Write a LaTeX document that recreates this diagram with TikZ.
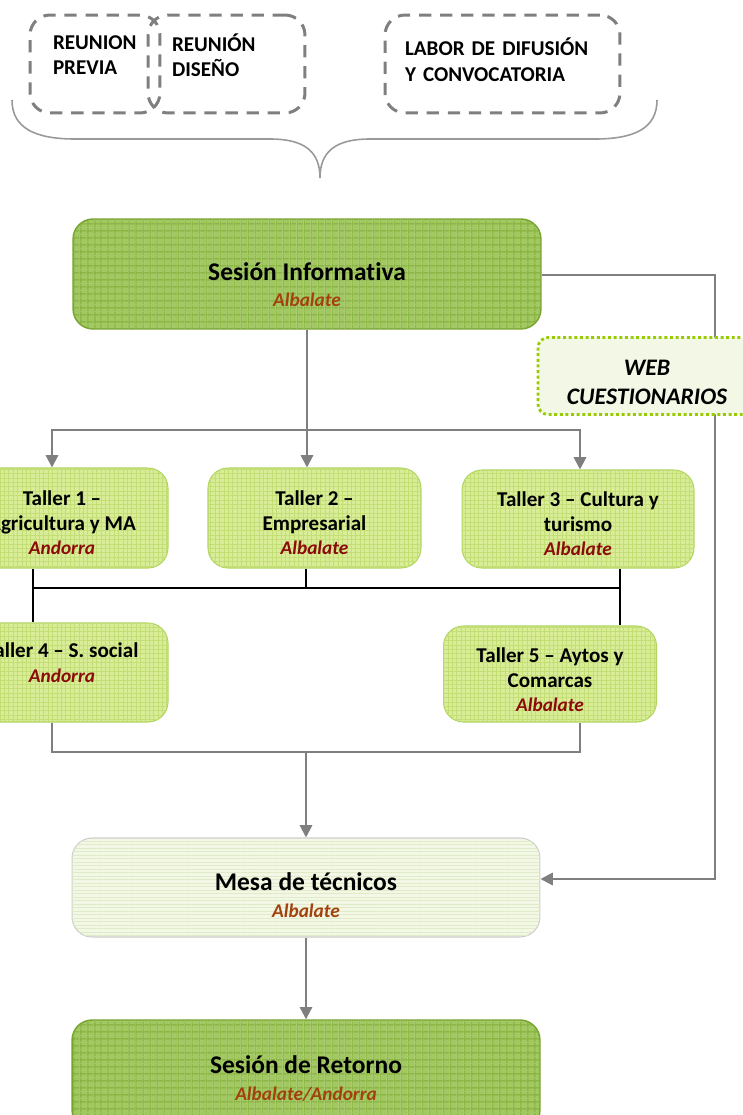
\documentclass[tikz,border=0pt]{standalone}
\usepackage{fontspec}
\setmainfont{Carlito}[Ligatures=NoCommon]
\usetikzlibrary{arrows.meta,patterns.meta}
\definecolor{gris}{HTML}{7F7F7F}
\definecolor{verdeoscuro}{HTML}{A2C862}
\definecolor{verderejilla}{HTML}{80AD38}
\definecolor{verdeborde}{HTML}{76A22E}
\definecolor{verdeclaro}{HTML}{D9EC98}
\definecolor{rejillaclara}{HTML}{C3DE74}
\definecolor{bordeclaro}{HTML}{B0D45E}
\definecolor{verdepalido}{HTML}{F3F8E6}
\definecolor{rejillapalida}{HTML}{DFEAC6}
\definecolor{verdeweb}{HTML}{99CC00}
\definecolor{marron}{HTML}{A3410E}
\definecolor{granate}{HTML}{8B0A0A}
\newcommand{\lugar}[2]{{\itshape\fontsize{11}{13}\selectfont\color{#1}#2}}
\begin{document}
\begin{tikzpicture}[x=0.02cm,y=-0.02cm,
  reunion/.style={draw=gris,line width=1.7pt,dash pattern=on 7pt off 5pt,rounded corners=0.4cm,
    align=left,minimum height=1.96cm,font=\bfseries\fontsize{12}{14}\selectfont,
    execute at end node={\rule[-#1]{0pt}{0pt}}},
  sesion/.style={draw=verdeborde,fill=verdeoscuro,line width=0.8pt,rounded corners=0.4cm,
    minimum width=9.36cm,align=center,font=\bfseries\fontsize{14.5}{15}\selectfont,
    postaction={pattern={Lines[angle=0,distance=4pt,line width=0.7pt]},pattern color=verderejilla},
    postaction={pattern={Lines[angle=90,distance=4pt,line width=0.7pt]},pattern color=verderejilla}},
  taller/.style={draw=bordeclaro,fill=verdeclaro,line width=0.6pt,rounded corners=0.4cm,
    align=center,font=\bfseries\fontsize{12}{14}\selectfont,
    postaction={pattern={Lines[angle=0,distance=2.5pt,line width=0.5pt]},pattern color=rejillaclara},
    postaction={pattern={Lines[angle=90,distance=2.5pt,line width=0.5pt]},pattern color=rejillaclara}},
  mesa/.style={draw=black!20,fill=verdepalido,line width=0.6pt,rounded corners=0.4cm,
    minimum width=9.36cm,minimum height=1.98cm,align=center,font=\bfseries\fontsize{14.5}{15}\selectfont,
    postaction={pattern={Lines[angle=0,distance=2pt,line width=0.4pt]},pattern color=rejillapalida}},
  web/.style={draw=verdeweb,fill=verdepalido,line width=1.6pt,dash pattern=on 1.7pt off 1.5pt,
    rounded corners=0.2cm,minimum width=4.36cm,minimum height=1.54cm,align=center,
    font=\bfseries\itshape\fontsize{13.5}{16}\selectfont},
  flecha/.style={draw=gris,line width=1.2pt,->,>={Triangle[length=7pt,width=7pt]}},
  linea/.style={draw=black,line width=0.8pt},
  llave/.style={draw=gris!80,line width=0.9pt}]
\useasboundingbox (0,0) rectangle (743,1115);
% fase previa
\node[reunion=10pt,text width=1.68cm,inner xsep=0.46cm] (prev) at (95,64) {REUNION\\PREVIA};
\node[reunion=10pt,text width=2.18cm,inner xsep=0.48cm] (dis) at (226.5,64) {REUNIÓN\\DISEÑO};
\node[reunion=5pt,text width=3.9cm,inner xsep=0.4cm] (lab) at (502.5,64) {LABOR DE DIFUSIÓN\\[1pt]Y CONVOCATORIA};
\draw[llave] (12,100) .. controls (12,128) and (35,139) .. (75,139) -- (270,139)
  .. controls (305,139) and (320,152) .. (320,178)
  .. controls (320,152) and (335,139) .. (370,139) -- (595,139)
  .. controls (635,139) and (657,128) .. (657,100);
% sesiones y talleres
\node[sesion,minimum height=2.2cm] (si) at (307,274) {\rule{0pt}{22pt}Sesión Informativa\\\lugar{marron}{Albalate}};
\node[taller,minimum width=4.24cm,minimum height=2cm] (t1) at (62,518) {\rule{0pt}{14pt}Taller 1 –\\Agricultura y MA\\\lugar{granate}{Andorra}};
\node[taller,minimum width=4.26cm,minimum height=2cm] (t2) at (314.5,518) {\rule{0pt}{14pt}Taller 2 –\\Empresarial\\\lugar{granate}{Albalate}};
\node[taller,minimum width=4.64cm,minimum height=1.96cm] (t3) at (578,519) {\rule{0pt}{14pt}Taller 3 – Cultura y\\turismo\\\lugar{granate}{Albalate}};
\node[taller,minimum width=4.24cm,minimum height=1.98cm] (t4) at (62,672.5) {\rule{0pt}{11pt}Taller 4 – S. social\\\lugar{granate}{Andorra}\\~};
\node[taller,minimum width=4.26cm,minimum height=1.92cm] (t5) at (550,674) {\rule{0pt}{15pt}Taller 5 – Aytos y\\Comarcas\\\lugar{granate}{Albalate}};
\node[mesa] (mesa) at (306,887.5) {\rule{0pt}{19pt}Mesa de técnicos\\\lugar{marron}{Albalate}};
\node[sesion,minimum height=2.2cm] (ret) at (306,1075) {\rule{0pt}{14pt}Sesión de Retorno\\\lugar{marron}{Albalate/Andorra}};
% conexiones
\coordinate (b1) at (52,430);
\coordinate (b3) at (580,430);
\coordinate (c1) at (33,588);
\coordinate (c2) at (306,588);
\coordinate (c3) at (620,588);
\coordinate (d1) at (52,752);
\coordinate (d2) at (306,752);
\coordinate (d3) at (580,752);
\coordinate (fb1) at (715,275);
\coordinate (fb2) at (715,879);
\draw[flecha] (si.south) -- (si.south |- t2.north);
\draw[flecha,<->] (b1 |- t1.north) -- (b1) -- (b3) -- (b3 |- t3.north);
\draw[linea] (c1 |- t1.south) -- (c1 |- t4.north);
\draw[linea] (c3 |- t3.south) -- (c3 |- t5.north);
\draw[linea] (c2 |- t2.south) -- (c2);
\draw[linea] (c1) -- (c3);
\draw[flecha,-] (d1 |- t4.south) -- (d1) -- (d3) -- (d3 |- t5.south);
\draw[flecha] (d2) -- (mesa.north);
\draw[flecha] (mesa) -- (ret);
\draw[flecha] (fb1 -| si.east) -- (fb1) -- (fb2) -- (fb2 -| mesa.east);
\node[web] (w) at (647,376) {\rule{0pt}{16pt}WEB\\CUESTIONARIOS};
\end{tikzpicture}
\end{document}
